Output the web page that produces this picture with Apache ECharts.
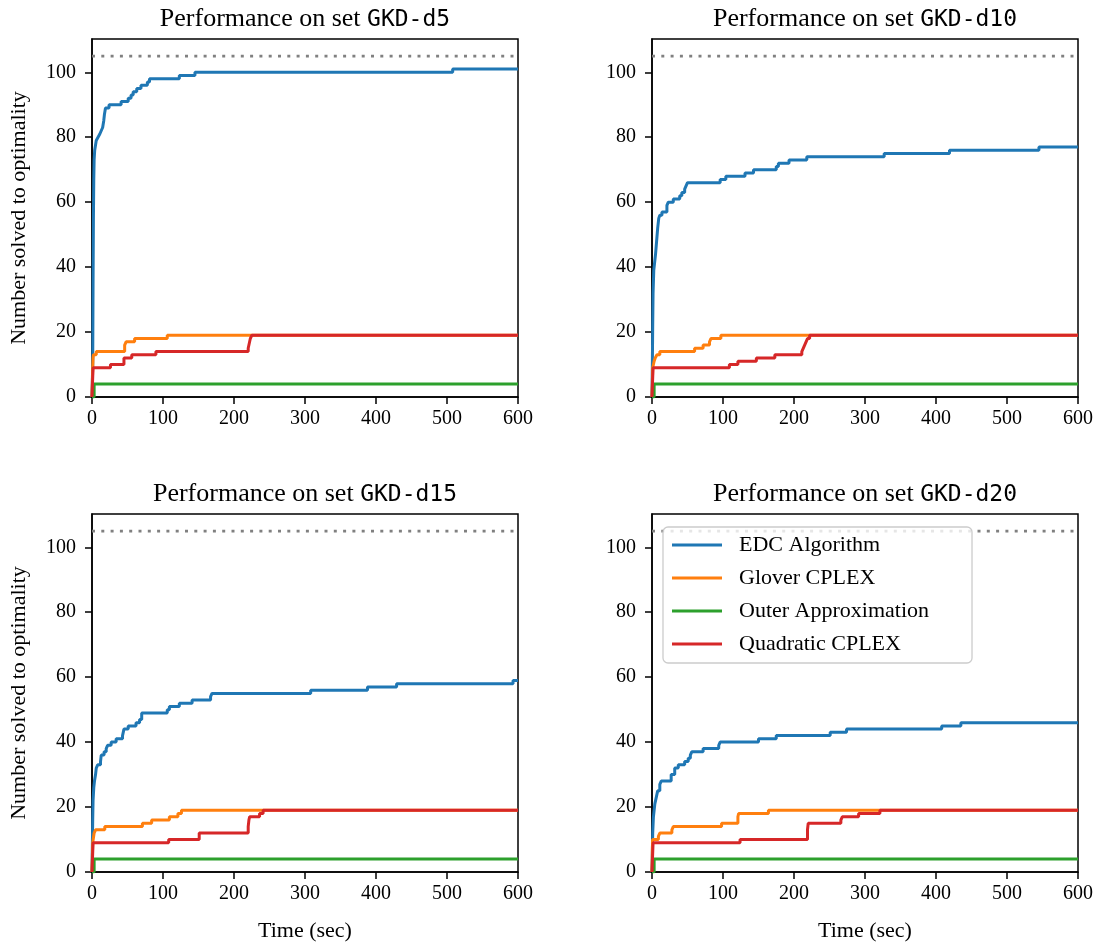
<!DOCTYPE html>
<html>
<head>
<meta charset="utf-8">
<script src="https://cdn.jsdelivr.net/npm/echarts@6/dist/echarts.min.js"></script>
<style>
  html, body { margin: 0; padding: 0; background: #ffffff; }
  #chart { width: 1103px; height: 945px; }
</style>
</head>
<body>
<div id="chart"></div>
<script>
// Instance sets and method names
const setNames = ['GKD-d5', 'GKD-d10', 'GKD-d15', 'GKD-d20'];
const methodNames = ['EDC Algorithm', 'Glover CPLEX', 'Outer Approximation', 'Quadratic CPLEX'];
const totalInstances = 105;
const yTicks = [0, 20, 40, 60, 80, 100];
const xTickStep = 100;

// Cumulative number solved to optimality: [time (sec), count]
const d5_edc = [[0,0],[1,10],[1.5,35],[2,55],[2.5,67],[3,73],[3.8,76],[6,79],[8.5,80],[11,81],[13,82],[15,83],[16.5,85],[17.5,87],[19,89],[24,90],[41,91],[51,92],[55,93],[58,94],[63,95],[69,96],[78,97],[81,98],[123,99],[145,100],[508,101],[600,101]];
const d5_glover = [[0,0],[1,9],[1.5,12],[2,13],[6,14],[46,16],[48,17],[60,18],[106,19],[600,19]];
const d5_outer = [[0,0],[3,4],[600,4]];
const d5_quad = [[0,0],[1.5,9],[26,10],[45,12],[56,13],[90,14],[220,15],[221,16],[222,17],[223,18],[225,19],[600,19]];

const d10_edc = [[0,0],[0.5,10],[1,22],[1.5,32],[2.5,39],[3.5,41],[5,44],[6.5,48],[8,52],[9.5,55],[11,56],[14,57],[21,59],[23,60],[30,61],[39,62],[42,63],[46,64],[48,65],[50,66],[96,67],[104,68],[131,69],[143,70],[175,71],[178,72],[193,73],[218,74],[327,75],[419,76],[545,77],[600,77]];
const d10_glover = [[0,0],[1,9],[2,10],[3,11],[4.5,12],[7,13],[11,14],[60,15],[72,16],[81,17],[83,18],[97,19],[600,19]];
const d10_outer = [[0,0],[3,4],[600,4]];
const d10_quad = [[0,0],[1.5,9],[109,10],[121,11],[147,12],[173,13],[211,14],[213,15],[215,16],[217,17],[219,18],[222,19],[600,19]];

const d15_edc = [[0,0],[0.5,8],[1,16],[1.5,22],[2.5,26],[3.5,28],[5,30],[6,32],[8,33],[12,34],[13,36],[17,37],[20,38],[22,39],[27,40],[34,41],[43,42],[45,44],[51,45],[62,46],[67,47],[70,49],[106,50],[109,51],[123,52],[141,53],[167,54],[169,55],[308,56],[388,57],[429,58],[593,59],[600,59]];
const d15_glover = [[0,0],[1,9],[3,12],[5,13],[18,14],[71,15],[84,16],[109,17],[121,18],[126,19],[600,19]];
const d15_outer = [[0,0],[3,4],[600,4]];
const d15_quad = [[0,0],[1.5,9],[108,10],[151,12],[220,14],[221,16],[222,17],[236,18],[241,19],[600,19]];

const d20_edc = [[0,0],[0.5,6],[1,12],[2,17],[4,21],[6,23],[8,25],[11,27],[13,28],[27,30],[32,32],[37,33],[46,34],[51,35],[54,36],[56,37],[72,38],[94,39],[96,40],[150,41],[175,42],[251,43],[274,44],[408,45],[435,46],[600,46]];
const d20_glover = [[0,0],[0.8,10],[9,11],[11,12],[28,13],[30,14],[98,15],[121,17],[122,18],[164,19],[600,19]];
const d20_outer = [[0,0],[3,4],[600,4]];
const d20_quad = [[0,0],[1.5,9],[124,10],[219,13],[220,15],[266,16],[268,17],[291,18],[321,19],[600,19]];

const panelData = [
  [d5_edc, d5_glover, d5_outer, d5_quad],
  [d10_edc, d10_glover, d10_outer, d10_quad],
  [d15_edc, d15_glover, d15_outer, d15_quad],
  [d20_edc, d20_glover, d20_outer, d20_quad]
];

const colors = ['#1f77b4', '#ff7f0e', '#2ca02c', '#d62728'];
const SERIF = '"Liberation Serif", "DejaVu Serif", serif';
const MONO = '"DejaVu Sans Mono", "Liberation Mono", monospace';

// Panel geometry (2 x 2 layout)
const cols = [92, 652];
const rows = [39, 514];
const plotW = 426, plotH = 358;

const grids = [], xAxes = [], yAxes = [], titles = [], series = [];

setNames.forEach((setName, i) => {
  const left = cols[i % 2];
  const top = rows[Math.floor(i / 2)];
  const isBottom = i >= 2;
  const isLeft = i % 2 === 0;

  grids.push({
    left: left, top: top, width: plotW, height: plotH,
    show: true, borderColor: '#000000', borderWidth: 1.5, backgroundColor: 'transparent'
  });

  xAxes.push({
    gridIndex: i, type: 'value', min: 0, max: 600, interval: xTickStep,
    name: isBottom ? 'Time (sec)' : '',
    nameLocation: 'middle', nameGap: 48,
    nameTextStyle: { fontFamily: SERIF, fontSize: 22, color: '#000' },
    axisLine: { show: true, onZero: false, lineStyle: { color: '#000', width: 1.5 } },
    axisTick: { show: true, inside: false, length: 7, lineStyle: { color: '#000', width: 1.5 } },
    axisLabel: { fontFamily: SERIF, fontSize: 20, color: '#000', margin: 12 },
    splitLine: { show: false }
  });

  yAxes.push({
    gridIndex: i, type: 'value', min: 0, max: 110.25, interval: 20,
    name: isLeft ? 'Number solved to optimality' : '',
    nameLocation: 'middle', nameGap: 62, nameRotate: 90,
    nameTextStyle: { fontFamily: SERIF, fontSize: 22, color: '#000' },
    axisLine: { show: true, onZero: false, lineStyle: { color: '#000', width: 1.5 } },
    axisTick: { show: true, inside: false, length: 7, customValues: yTicks, lineStyle: { color: '#000', width: 1.5 } },
    axisLabel: { fontFamily: SERIF, fontSize: 20, color: '#000', margin: 16, customValues: yTicks },
    splitLine: { show: false }
  });

  titles.push({
    left: left + plotW / 2, top: top - 33, textAlign: 'center', padding: 0,
    text: '{s|Performance on set }{m|' + setName + '}',
    textStyle: {
      fontWeight: 'normal',
      rich: {
        s: { fontFamily: SERIF, fontSize: 26, fontWeight: 'normal', color: '#000', verticalAlign: 'bottom' },
        m: { fontFamily: MONO, fontSize: 23, fontWeight: 'normal', color: '#000', verticalAlign: 'bottom' }
      }
    }
  });

  // total number of instances in the set
  series.push({
    type: 'line', xAxisIndex: i, yAxisIndex: i, silent: true,
    symbol: 'none', z: 1,
    data: [[0, totalInstances], [600, totalInstances]],
    lineStyle: { color: '#808080', width: 2.8, type: [3, 6.3], cap: 'butt' }
  });

  panelData[i].forEach((pts, k) => {
    series.push({
      name: methodNames[k], type: 'line', xAxisIndex: i, yAxisIndex: i,
      step: 'end', symbol: 'none', showSymbol: false, z: 2 + k,
      data: pts,
      itemStyle: { color: colors[k] },
      lineStyle: { color: colors[k], width: 3 }
    });
  });
});

const chart = echarts.init(document.getElementById('chart'), null, { renderer: 'canvas' });
chart.setOption({
  animation: false,
  backgroundColor: '#ffffff',
  title: titles,
  grid: grids,
  xAxis: xAxes,
  yAxis: yAxes,
  legend: {
    data: methodNames,
    orient: 'vertical',
    left: 663, top: 527,
    icon: 'rect',
    itemWidth: 50, itemHeight: 3, itemGap: 11,
    padding: [7, 43, 8, 9],
    backgroundColor: 'rgba(255,255,255,0.8)',
    borderColor: '#cccccc', borderWidth: 1.3, borderRadius: 5,
    selectedMode: false,
    textStyle: { fontFamily: SERIF, fontSize: 22, color: '#000', padding: [0, 0, 0, 12] },
    z: 10
  },
  series: series
});
</script>
</body>
</html>
